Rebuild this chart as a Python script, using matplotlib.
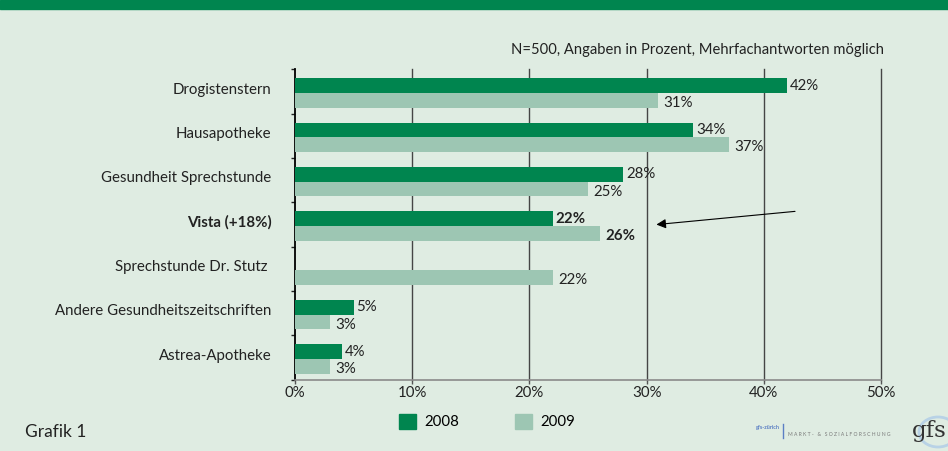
import numpy as np
import matplotlib.pyplot as plt
from matplotlib.patches import Patch, Rectangle, Ellipse

# ================================================================================
# data
categories=["Drogistenstern","Hausapotheke","Gesundheit Sprechstunde","Vista (+18%)",
            "Sprechstunde Dr. Stutz ","Andere Gesundheitszeitschriften","Astrea-Apotheke"]
values_2008=[42,34,28,22,None,5,4]
values_2009=[31,37,25,26,22,3,3]
highlight="Vista (+18%)"
xticks=[0,10,20,30,40,50]
series_names=["2008","2009"]

# ================================================================================
bg="#dfece2"
dark="#00854f"
light="#9dc6b3"
fs=10.8
plt.rcParams['font.family']=['Lato','DejaVu Sans']

fig=plt.figure(figsize=(9.48,4.51),dpi=100,facecolor=bg)
fig.patches.append(Rectangle((0,1-9/451),1,9/451,transform=fig.transFigure,color=dark,zorder=0))

ax=fig.add_axes([295/948,1-379.5/451,586/948,310.2/451])
ax.set_facecolor(bg)

n=len(categories)
pos=np.arange(n)
h=0.33
for i,(v8,v9,name) in enumerate(zip(values_2008,values_2009,categories)):
  w="bold" if name==highlight else "normal"
  if v8 is not None:
    ax.barh(i-0.13,v8,height=h,color=dark,zorder=3)
    ax.text(v8+0.25,i-0.13,f"{v8}%",va="center",ha="left",fontsize=fs,fontweight=w,color="#222222",zorder=4)
  if v9 is not None:
    ax.barh(i+0.2,v9,height=h,color=light,zorder=3)
    ax.text(v9+0.45,i+0.26,f"{v9}%",va="center",ha="left",fontsize=fs,fontweight=w,color="#222222",zorder=4)

# ================================================================================
ax.set_xlim(0,50)
ax.set_ylim(n-0.5,-0.5)
ax.set_xticks(xticks)
ax.set_xticklabels([f"{t}%" for t in xticks],fontsize=fs,color="#222222")
for t in xticks[1:]:
  ax.axvline(t,color="#454545",lw=1,zorder=2,clip_on=False)

ax.set_yticks(pos-0.07)
ax.set_yticklabels(categories,fontsize=fs,color="#222222")
for lab in ax.get_yticklabels():
  if lab.get_text()==highlight:
    lab.set_fontweight("bold")
ax.tick_params(axis="y",which="major",length=0,pad=17)
ax.set_yticks(np.arange(n+1)-0.5,minor=True)
ax.tick_params(axis="y",which="minor",length=3,width=1,color="#222222")
ax.tick_params(axis="x",length=3,width=1,color="#555555",pad=2)

for s in ["top","right"]:
  ax.spines[s].set_visible(False)
ax.spines["left"].set_color("black")
ax.spines["left"].set_linewidth(1.3)
ax.spines["bottom"].set_color("#8a8a8a")
ax.spines["bottom"].set_linewidth(1.2)

# ================================================================================
fig.text(884/948,1-50/451,"N=500, Angaben in Prozent, Mehrfachantworten möglich",
         ha="right",va="center",fontsize=10.6,color="#222222")

ax.annotate("",xy=(30.6,3.01),xytext=(42.9,2.70),
            arrowprops=dict(arrowstyle="-|>",color="black",lw=0.8,mutation_scale=14),zorder=5)

handles=[Patch(color=dark),Patch(color=light)]
fig.legend(handles,series_names,loc="center left",bbox_to_anchor=(399/948,1-421.5/451),
           ncol=2,frameon=False,fontsize=fs,handlelength=1.15,handleheight=1.15,
           handletextpad=0.55,columnspacing=3.7,borderpad=0,borderaxespad=0)

fig.text(25/948,1-432/451,"Grafik 1",ha="left",va="center",fontsize=12.5,color="#222222")

# logo
fig.text(780/948,1-428/451,"gfs-zürich",ha="right",va="center",fontsize=4,color="#5b7fc4",fontweight="bold")
fig.add_artist(plt.Line2D([783/948,783/948],[1-424/451,1-438/451],color="#5b7fc4",lw=1))
fig.text(788/948,1-434/451,"M A R K T -   &   S O Z I A L F O R S C H U N G",ha="left",va="center",
         fontsize=3.6,color="#777777")
fig.patches.append(Ellipse((938/948,1-432/451),38/948,30/451,transform=fig.transFigure,
                           fill=False,ec="#b8d2e6",lw=2,zorder=1))
fig.text(912/948,1-431/451,"gfs",ha="left",va="center",fontsize=16.5,color="#333333",family="DejaVu Serif")

plt.savefig("out.png",dpi=100,facecolor=bg)
